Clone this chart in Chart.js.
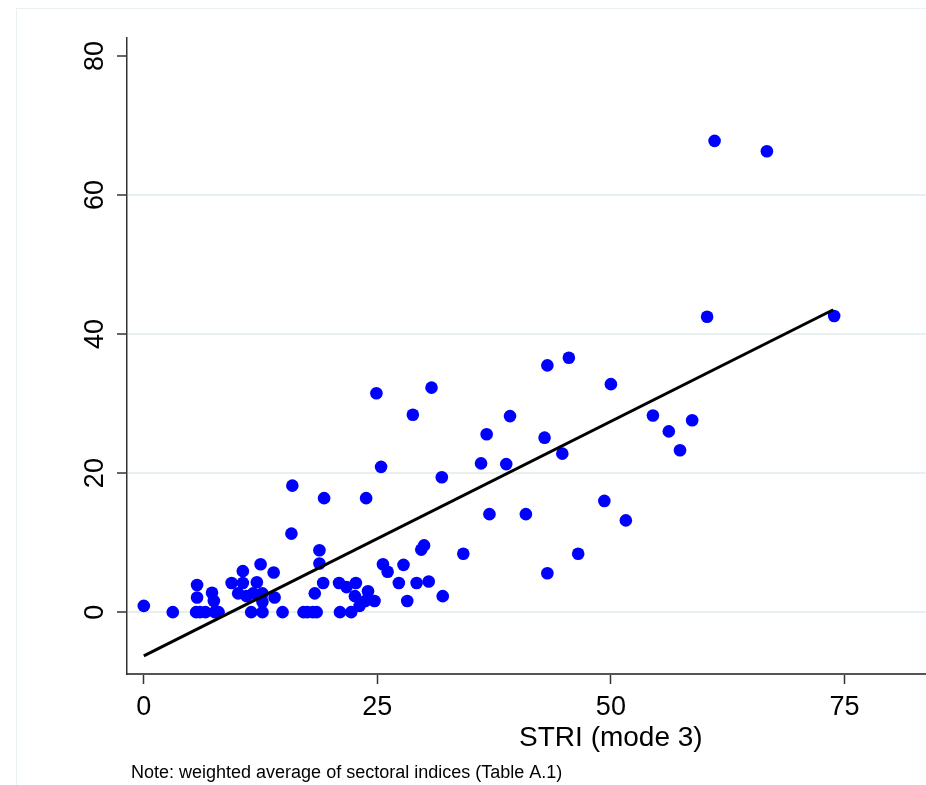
<!DOCTYPE html>
<html>
<head>
<meta charset="utf-8">
<script src="https://cdn.jsdelivr.net/npm/chart.js@4/dist/chart.umd.min.js"></script>
<style>
  html, body { margin: 0; padding: 0; background: #ffffff; overflow: hidden; }
  #wrap { width: 926px; height: 785px; position: relative; overflow: hidden; }
  canvas { display: block; }
</style>
</head>
<body>
<div id="wrap"><canvas id="c" width="932" height="785"></canvas></div>
<script>
// STRI (mode 3) values (x) and the plotted index (y)
const striValues = [
  0.0, 3.1, 5.6, 6.0, 6.6, 7.6, 8.0, 5.7, 5.7, 7.3,
  7.5, 9.4, 10.6, 10.6, 10.1, 11.0, 11.7, 12.1, 12.5, 12.7,
  12.7, 11.5, 12.7, 13.9, 14.0, 14.85, 17.1, 17.5, 18.1, 18.5,
  18.3, 18.8, 18.8, 19.2, 20.9, 21.7, 22.7, 22.6, 24.0, 24.7,
  23.7, 23.1, 21.0, 22.2, 25.6, 26.1, 27.8, 27.3, 28.2, 29.2,
  30.5, 32.0, 29.7, 30.0, 34.2, 37.0, 40.9, 24.9, 30.8, 28.8,
  25.4, 31.9, 15.9, 19.3, 23.8, 15.8, 36.1, 43.2, 45.5, 50.0,
  39.2, 36.7, 42.9, 44.8, 38.8, 54.5, 56.2, 57.4, 49.3, 51.6,
  46.5, 43.2, 58.7, 61.1, 66.7, 60.3, 73.9
];
const indexValues = [
  0.9, 0, 0, 0, 0, 0, 0, 3.9, 2.1, 2.8,
  1.6, 4.2, 5.9, 4.2, 2.7, 2.3, 2.7, 4.3, 6.9, 2.7,
  1.5, 0, 0, 5.7, 2.1, 0, 0, 0, 0, 0,
  2.7, 7.0, 8.9, 4.2, 4.2, 3.6, 4.2, 2.3, 3.0, 1.6,
  1.6, 0.9, 0, 0, 6.9, 5.8, 6.8, 4.2, 1.6, 4.2,
  4.4, 2.3, 9.0, 9.6, 8.4, 14.1, 14.1, 31.5, 32.3, 28.4,
  20.9, 19.4, 18.2, 16.4, 16.4, 11.3, 21.4, 35.5, 36.6, 32.8,
  28.2, 25.6, 25.1, 22.8, 21.3, 28.3, 26.0, 23.3, 16.0, 13.2,
  8.4, 5.6, 27.6, 67.8, 66.3, 42.5, 42.6
];
// fitted line end points
const fitX = [0, 73.8];
const fitY = [-6.3, 43.5];
// tick labels
const xTickValues = [0, 25, 50, 75];
const yTickValues = [0, 20, 40, 60, 80];
const xAxisTitle = 'STRI (mode 3)';
const noteText = 'Note: weighted average of sectoral indices (Table A.1)';

const FONT = "'Liberation Sans', Arial, sans-serif";

const scatterData = striValues.map((x, i) => ({ x: x, y: indexValues[i] }));
const fitData = fitX.map((x, i) => ({ x: x, y: fitY[i] }));

const decorPlugin = {
  id: 'decor',
  beforeDraw(chart) {
    const ctx = chart.ctx;
    ctx.save();
    ctx.fillStyle = '#ffffff';
    ctx.fillRect(0, 0, chart.width, chart.height);
    ctx.strokeStyle = '#e9f0f2';
    ctx.lineWidth = 1;
    ctx.strokeRect(16.5, 8.5, chart.width, chart.height);
    ctx.restore();
  },
  afterDraw(chart) {
    const ctx = chart.ctx;
    const xs = chart.scales.x;
    ctx.save();
    ctx.fillStyle = '#000000';
    ctx.textBaseline = 'middle';
    ctx.textAlign = 'center';
    ctx.font = '28px ' + FONT;
    ctx.fillText(xAxisTitle, xs.getPixelForValue(50), 738);
    ctx.textAlign = 'left';
    ctx.font = '18px ' + FONT;
    ctx.fillText(noteText, 131, 773);
    ctx.restore();
  }
};

new Chart(document.getElementById('c'), {
  data: {
    datasets: [
      {
        type: 'line',
        data: fitData,
        borderColor: '#000000',
        borderWidth: 3,
        pointRadius: 0,
        fill: false,
        tension: 0,
        order: 0
      },
      {
        type: 'scatter',
        data: scatterData,
        backgroundColor: '#0000ff',
        borderWidth: 0,
        pointRadius: 6.3,
        order: 1
      }
    ]
  },
  options: {
    responsive: false,
    animation: false,
    devicePixelRatio: 1,
    layout: { padding: { left: 0, right: 0, top: 38, bottom: 0 } },
    plugins: {
      legend: { display: false },
      tooltip: { enabled: false }
    },
    scales: {
      x: {
        type: 'linear',
        position: 'bottom',
        min: -1.8,
        max: 83.7,
        afterBuildTicks(scale) { scale.ticks = xTickValues.map(v => ({ value: v })); },
        afterFit(scale) { scale.height = 111; scale.paddingLeft = 0; scale.paddingRight = 0; },
        border: { display: true, color: '#555555', width: 2 },
        grid: { drawOnChartArea: false, drawTicks: true, tickLength: 10, tickColor: '#333333', tickWidth: 1.5 },
        ticks: {
          color: '#000000',
          font: { family: FONT, size: 27 },
          padding: 7,
          maxRotation: 0,
          autoSkip: false,
          callback: v => String(v)
        }
      },
      y: {
        type: 'linear',
        position: 'left',
        min: -8.9,
        max: 82.6,
        afterBuildTicks(scale) { scale.ticks = yTickValues.map(v => ({ value: v })); },
        afterFit(scale) { scale.width = 127; scale.paddingTop = 0; scale.paddingBottom = 0; },
        border: { display: true, color: '#333333', width: 1.5 },
        grid: {
          color: ctx => (ctx.tick && ctx.tick.value === 80) ? 'rgba(0,0,0,0)' : '#e8eff1',
          lineWidth: 2,
          drawTicks: true,
          tickLength: 10,
          tickColor: '#333333',
          tickWidth: 1.5
        },
        ticks: {
          color: '#000000',
          font: { family: FONT, size: 27 },
          padding: 6,
          minRotation: 90,
          maxRotation: 90,
          crossAlign: 'center',
          autoSkip: false,
          callback: v => String(v)
        }
      }
    }
  },
  plugins: [decorPlugin]
});
</script>
</body>
</html>
